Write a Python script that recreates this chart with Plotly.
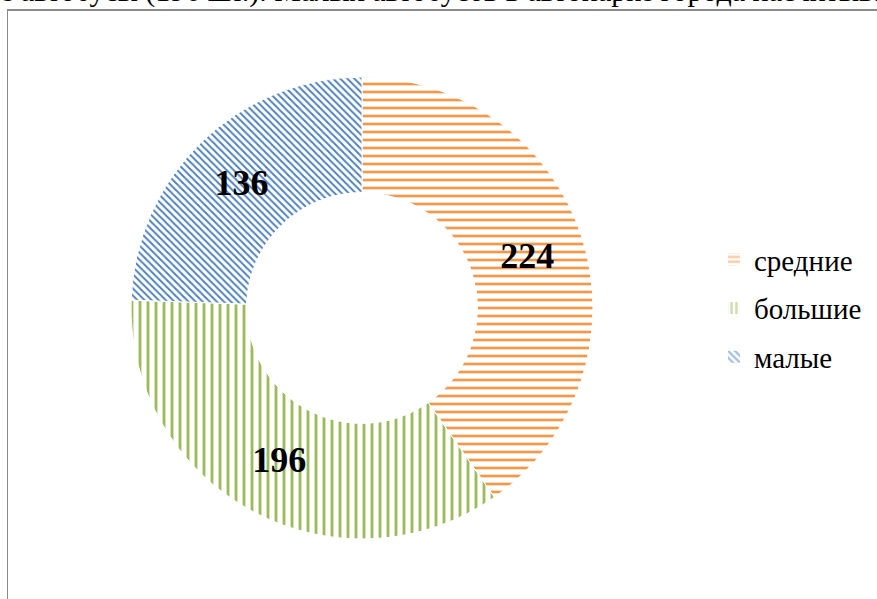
import plotly.graph_objects as go

labels = ["средние", "большие", "малые"]
values = [224, 196, 136]
colors = ["#F79646", "#9BBB59", "#4F81BD"]
shapes = ["-", "|", "\\"]
top_text = "е автобусы (196 шт.). Малых автобусов в автопарке города насчитыва"

W, H = 877, 599
SERIF = "Liberation Serif, Times New Roman, Times, serif"

fig = go.Figure()
fig.add_trace(go.Pie(
    labels=labels,
    values=values,
    hole=0.5,
    sort=False,
    direction="clockwise",
    rotation=0,
    textinfo="value",
    textposition="inside",
    insidetextorientation="horizontal",
    textfont=dict(family=SERIF, size=36, color="black", weight="bold"),
    marker=dict(
        colors=colors,
        line=dict(color="white", width=1),
        pattern=dict(shape=shapes, fgcolor=colors, bgcolor="white",
                     size=[8, 8, 5], solidity=[0.33, 0.35, 0.4], fillmode="replace"),
    ),
    domain=dict(x=[(362 - 231) / W, (362 + 231) / W],
                y=[1 - (308 + 231) / H, 1 - (308 - 231) / H]),
    showlegend=False,
    hoverinfo="label+value",
))

# legend entries (same labels / colours / patterns as the slices)
for lab, col, shp in zip(labels, colors, shapes):
    fig.add_trace(go.Bar(
        x=[None], y=[None], name=lab, legendgroup=lab, showlegend=True,
        marker=dict(color=col, line=dict(width=0),
                    pattern=dict(shape=shp, fgcolor=col, bgcolor="white", size=6, solidity=0.5)),
        hoverinfo="skip",
    ))

fig.update_layout(
    width=W, height=H,
    margin=dict(l=0, r=0, t=0, b=0),
    paper_bgcolor="white",
    plot_bgcolor="white",
    font=dict(family=SERIF, color="black"),
    xaxis=dict(visible=False),
    yaxis=dict(visible=False),
    showlegend=True,
    legend=dict(
        x=714 / W, y=1 - 234 / H, xanchor="left", yanchor="top",
        font=dict(family=SERIF, size=29, color="black"),
        itemwidth=30,
        traceorder="grouped",
        tracegroupgap=8,
        bgcolor="rgba(0,0,0,0)",
    ),
    shapes=[
        dict(type="line", xref="paper", yref="paper", x0=7 / W, x1=1, y0=1 - 10 / H, y1=1 - 10 / H,
             line=dict(color="#8a8a8a", width=2)),
        dict(type="line", xref="paper", yref="paper", x0=7.5 / W, x1=7.5 / W, y0=0, y1=1 - 10 / H,
             line=dict(color="#8a8a8a", width=1)),
    ],
    annotations=[
        dict(text=top_text, xref="paper", yref="paper", x=-2 / W, y=1 + 9 / H,
             xanchor="left", yanchor="middle", showarrow=False,
             font=dict(family=SERIF, size=30, color="black")),
    ],
)

fig.write_html("out.html", config={"displayModeBar": False},
               post_script="document.body.style.margin='0';document.body.style.overflow='hidden';")
